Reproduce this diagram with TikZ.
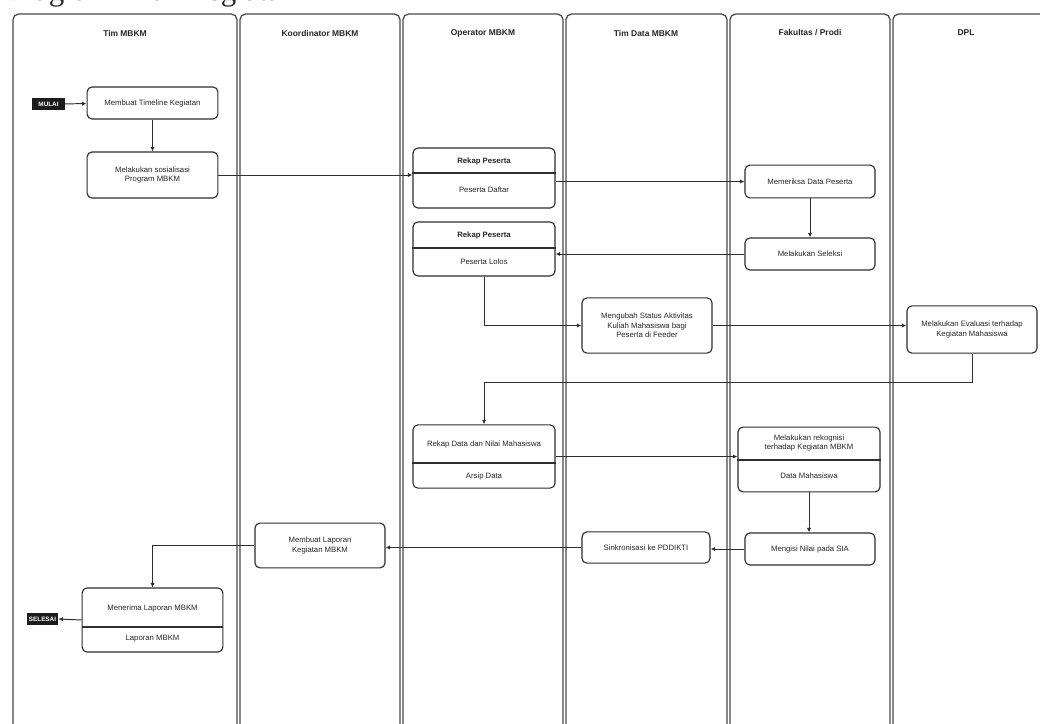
\documentclass[tikz,border=0pt]{standalone}
\usepackage{fontspec}
\setmainfont{Liberation Sans}
\newfontfamily\judulfont{Liberation Serif}
\usetikzlibrary{arrows.meta, positioning, calc}
\definecolor{garisLajur}{HTML}{4A4A4A}
\definecolor{garisKotak}{HTML}{2E2E2E}
\definecolor{tagGelap}{HTML}{1C1C1C}

\begin{document}
\begin{tikzpicture}[x=0.025cm, y=-0.025cm,
    every node/.style={font=\fontsize{5.5}{6.6}\selectfont, text=black!85},
    lajur/.style={draw=garisLajur, line width=0.9pt, rounded corners=4pt},
    kepala/.style={font=\fontsize{6}{7}\selectfont\bfseries},
    kotak/.style={draw=garisKotak, line width=0.8pt, rounded corners=3.5pt, fill=white, align=center, inner sep=1pt},
    tanda/.style={fill=tagGelap, text=white, font=\fontsize{4.5}{5}\selectfont\bfseries, inner sep=0pt},
    panah/.style={draw=garisKotak, line width=0.7pt, -{Latex[length=3.2pt, width=3pt]}}]
  \useasboundingbox[fill=white] (0,0) rectangle (1040,724);

  % judul (terpotong di tepi atas)
  \begin{scope}
    \clip (0,0) rectangle (1040,724);
    \node[anchor=base west, inner sep=0pt, font=\judulfont\fontsize{22}{22}\selectfont] (judul) at (4,0) {Diagram Alur Kegiatan};
  \end{scope}

  % lajur
  \foreach \xa/\xb in {13/237, 240/400, 403/563, 566/727, 730/890, 893/1070} {
    \draw[lajur] (\xa,14) rectangle (\xb,770);
  }
  \node[kepala] (lj1) at (125,33) {Tim MBKM};
  \node[kepala] (lj2) at (320,33) {Koordinator MBKM};
  \node[kepala] (lj3) at (483,33) {Operator MBKM};
  \node[kepala] (lj4) at (646,33) {Tim Data MBKM};
  \node[kepala] (lj5) at (810,33) {Fakultas / Prodi};
  \node[kepala] (lj6) at (966,33) {DPL};

  % Tim MBKM
  \node[tanda, minimum width=0.82cm, minimum height=0.3cm] (mulai) at (48.5,104) {MULAI};
  \node[kotak, minimum width=3.27cm, minimum height=0.8cm] (timeline) at (152.5,103) {Membuat Timeline Kegiatan};
  \node[kotak, minimum width=3.27cm, minimum height=1.15cm] (sosialisasi) at (152.5,175) {Melakukan sosialisasi\\Program MBKM};
  \node[kotak, minimum width=3.52cm, minimum height=1.6cm] (terima) at (152.5,620) {};
  \draw[garisKotak, line width=0.8pt] (terima.west |- 0,627) -- (terima.east |- 0,627);
  \node (terimaA) at (152.5,608) {Menerima Laporan MBKM};
  \node (terimaB) at (152.5,639) {Laporan MBKM};
  \node[tanda, minimum width=0.78cm, minimum height=0.3cm] (selesai) at (42.5,619) {SELESAI};

  % Koordinator MBKM
  \node[kotak, minimum width=3.25cm, minimum height=1.12cm] (laporan) at (320,545.5) {Membuat Laporan\\Kegiatan MBKM};

  % Operator MBKM
  \node[kotak, minimum width=3.55cm, minimum height=1.5cm] (rekap1) at (484,178) {};
  \draw[garisKotak, line width=0.8pt] (rekap1.west |- 0,173) -- (rekap1.east |- 0,173);
  \node[font=\fontsize{5.5}{6.6}\selectfont\bfseries] (rekap1A) at (484,161) {Rekap Peserta};
  \node (rekap1B) at (484,190) {Peserta Daftar};

  \node[kotak, minimum width=3.55cm, minimum height=1.35cm] (rekap2) at (484,249) {};
  \draw[garisKotak, line width=0.8pt] (rekap2.west |- 0,248) -- (rekap2.east |- 0,248);
  \node[font=\fontsize{5.5}{6.6}\selectfont\bfseries] (rekap2A) at (484,235) {Rekap Peserta};
  \node (rekap2B) at (484,262) {Peserta Lolos};

  \node[kotak, minimum width=3.55cm, minimum height=1.58cm] (rekapdata) at (484,456.5) {};
  \draw[garisKotak, line width=0.8pt] (rekapdata.west |- 0,463) -- (rekapdata.east |- 0,463);
  \node (rekapdataA) at (484,444) {Rekap Data dan Nilai Mahasiswa};
  \node (rekapdataB) at (484,476) {Arsip Data};

  % Tim Data MBKM
  \node[kotak, minimum width=3.25cm, minimum height=1.38cm] (ubahstatus) at (647,325.5) {Mengubah Status Aktivitas\\Kuliah Mahasiswa bagi\\Peserta di Feeder};
  \node[kotak, minimum width=3.2cm, minimum height=0.78cm] (sinkron) at (646,547.5) {Sinkronisasi ke PDDIKTI};

  % Fakultas / Prodi
  \node[kotak, minimum width=3.25cm, minimum height=0.82cm] (periksa) at (810,181.5) {Memeriksa Data Peserta};
  \node[kotak, minimum width=3.25cm, minimum height=0.8cm] (seleksi) at (810,254) {Melakukan Seleksi};
  \node[kotak, minimum width=3.55cm, minimum height=1.62cm] (rekognisi) at (809,459.5) {};
  \draw[garisKotak, line width=0.8pt] (rekognisi.west |- 0,460) -- (rekognisi.east |- 0,460);
  \node[align=center] (rekognisiA) at (809,443) {Melakukan rekognisi\\terhadap Kegiatan MBKM};
  \node (rekognisiB) at (809,476) {Data Mahasiswa};
  \node[kotak, minimum width=3.25cm, minimum height=0.8cm] (isinilai) at (810,549) {Mengisi Nilai pada SIA};

  % DPL
  \node[kotak, minimum width=3.25cm, minimum height=1.18cm] (evaluasi) at (972,329.5) {Melakukan Evaluasi terhadap\\Kegiatan Mahasiswa};

  % alur
  \draw[panah] (mulai) -- (timeline);
  \draw[panah] (timeline) -- (sosialisasi);
  \draw[panah] (sosialisasi.east) -- (sosialisasi.east -| rekap1.west);
  \draw[panah] (rekap1.east |- periksa) -- (periksa.west);
  \draw[panah] (periksa) -- (seleksi);
  \draw[panah] (seleksi.west) -- (seleksi.west -| rekap2.east);
  \draw[panah] (rekap2.south) |- (ubahstatus.west);
  \draw[panah] (ubahstatus.east) -- (ubahstatus.east -| evaluasi.west);
  \draw[panah] (evaluasi.south) -- ++(0,29) -| (rekapdata.north);
  \draw[panah] (rekapdata.east) -- (rekapdata.east -| rekognisi.west);
  \draw[panah] (rekognisi.south) -- (rekognisi.south |- isinilai.north);
  \draw[panah] (isinilai.west) -- (isinilai.west -| sinkron.east);
  \draw[panah] (sinkron.west) -- (sinkron.west -| laporan.east);
  \draw[panah] (laporan.west) -| (terima.north);
  \draw[panah] (terima.west) -- (selesai.east);
\end{tikzpicture}
\end{document}
